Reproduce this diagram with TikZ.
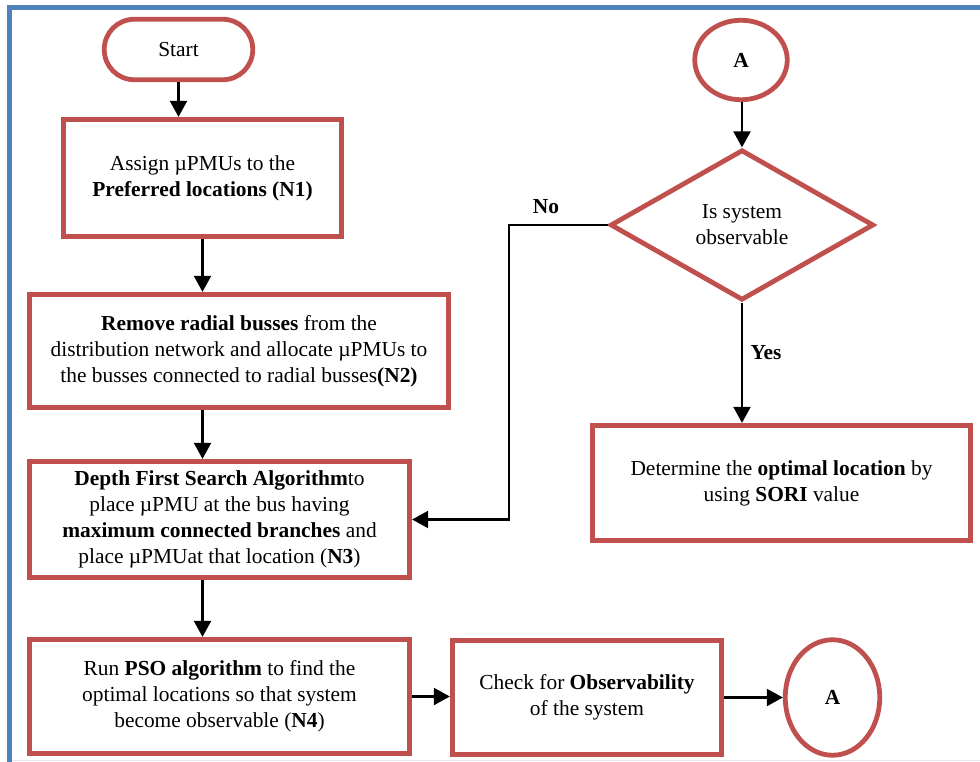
\documentclass[tikz,border=0pt]{standalone}
\usepackage{fontspec}
\setmainfont{Liberation Serif}
\usetikzlibrary{arrows.meta,shapes.geometric}
\definecolor{boxred}{HTML}{C0504D}
\definecolor{frameblue}{HTML}{4F81BD}
\tikzset{
  every node/.style={font=\fontsize{21.4}{26}\selectfont},
  procbox/.style={draw=boxred, line width=4.8pt, rectangle, align=center, inner sep=0pt, fill=white},
  startbox/.style={procbox, rounded corners=30pt},
  connbox/.style={draw=boxred, line width=4.8pt, ellipse, inner sep=0pt, font=\fontsize{21.4}{26}\selectfont\bfseries},
  decbox/.style={draw=boxred, line width=4.8pt, diamond, align=center, inner sep=0pt},
  flow/.style={line width=2.2pt, -{Triangle[width=17pt,length=16pt]}},
  lbl/.style={font=\fontsize{21.4}{26}\selectfont\bfseries, inner sep=0pt}
}
\begin{document}
\begin{tikzpicture}[x=1pt,y=-1pt]
\useasboundingbox (0,0) rectangle (980,762);
% frame
\draw[frameblue, line width=5pt] (9.8,775) -- (9.8,8) -- (995,8);
\draw[color=frameblue!18, line width=1.5pt] (12,760.5) -- (990,760.5);

\node[startbox, minimum width=148.5pt, minimum height=60.5pt] (start) at (178.5,49.5) {Start};
\node[procbox, minimum width=278.5pt, minimum height=117.5pt] (n1) at (202.5,178)
  {Assign µPMUs to the\\\textbf{Preferred locations (N1)}};
\node[procbox, minimum width=419.5pt, minimum height=113.5pt] (n2) at (239,351)
  {\textbf{Remove radial busses} from the\\distribution network and allocate µPMUs to\\the busses connected to radial busses\textbf{(N2)}};
\node[procbox, minimum width=380.5pt, minimum height=116.5pt] (n3) at (219.5,519.5)
  {\textbf{Depth First Search Algorithm}to\\place µPMU at the bus having\\\textbf{maximum connected branches} and\\place µPMUat that location (\textbf{N3})};
\node[procbox, minimum width=380.5pt, minimum height=114.5pt] (n4) at (219.5,696.5)
  {Run \textbf{PSO algorithm} to find the\\optimal locations so that system\\become observable (\textbf{N4})};
\node[procbox, minimum width=269.5pt, minimum height=114.5pt] (check) at (587,697.5)
  {Check for \textbf{Observability}\\of the system};
\node[connbox, minimum width=94.5pt, minimum height=115.5pt] (a2) at (832.5,697.5) {A};
\node[connbox, minimum width=92.5pt, minimum height=79.5pt] (a1) at (741,60) {A};
\node[decbox, minimum width=263.5pt, minimum height=150.5pt] (dia) at (742,225)
  {Is system\\observable};
\node[procbox, minimum width=378.5pt, minimum height=115.5pt] (det) at (781.5,483)
  {Determine the \textbf{optimal location} by\\using \textbf{SORI} value};

\coordinate (nocorner) at (509,225);
\node[lbl] (nolbl) at (546,207) {No};
\node[lbl] (yeslbl) at (766,353) {Yes};

\draw[flow] (start.south) -- (start.south |- n1.north);
\draw[flow] (n1.south) -- (n1.south |- n2.north);
\draw[flow] (n2.south -| n1.south) -- (n1.south |- n3.north);
\draw[flow] (n3.south -| n1.south) -- (n1.south |- n4.north);
\draw[flow] (n4.east) -- (n4.east -| check.west);
\draw[flow] (check.east) -- (a2.west);
\draw[flow] (dia.north |- a1.south) -- (dia.north);
\draw[flow] (dia.south) -- (dia.south |- det.north);
\draw[flow] (dia.west) -- (nocorner) |- (n3.east);
\end{tikzpicture}
\end{document}
